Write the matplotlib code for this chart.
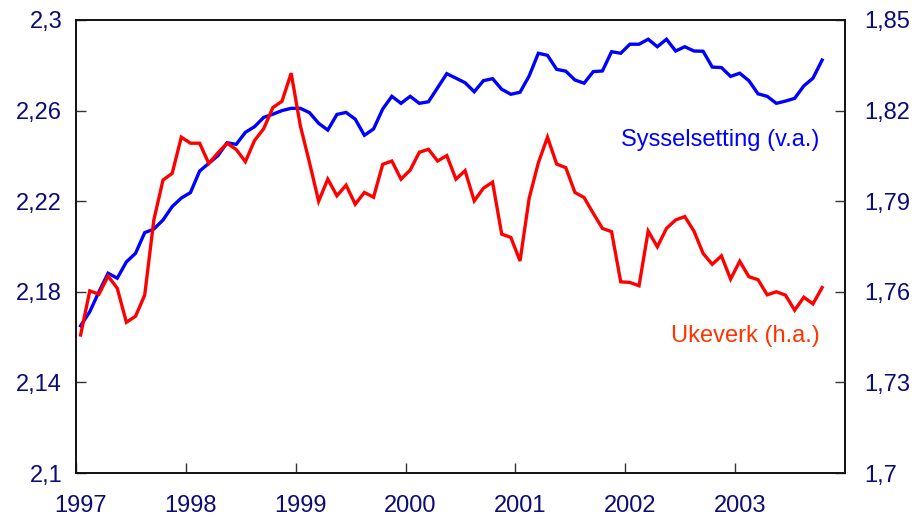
import numpy as np
import matplotlib
matplotlib.use("Agg")
import matplotlib.pyplot as plt

plt.rcParams['font.family'] = ['Liberation Sans', 'DejaVu Sans']

# monthly, Jan 1997 - Oct 2003
start_year = 1997
sysselsetting = [
    2.1650, 2.1712, 2.1800, 2.1882, 2.1860, 2.1932, 2.1970, 2.2061, 2.2077, 2.2117, 2.2176, 2.2214,
    2.2238, 2.2333, 2.2367, 2.2401, 2.2458, 2.2451, 2.2504, 2.2529, 2.2570, 2.2584, 2.2600, 2.2610,
    2.2610, 2.2591, 2.2544, 2.2514, 2.2583, 2.2592, 2.2562, 2.2491, 2.2519, 2.2607, 2.2663, 2.2632,
    2.2663, 2.2632, 2.2639, 2.2701, 2.2763, 2.2743, 2.2723, 2.2683, 2.2732, 2.2741, 2.2694, 2.2672,
    2.2681, 2.2753, 2.2853, 2.2844, 2.2782, 2.2774, 2.2735, 2.2721, 2.2772, 2.2775, 2.2860, 2.2853,
    2.2893, 2.2893, 2.2915, 2.2882, 2.2915, 2.2863, 2.2882, 2.2863, 2.2862, 2.2792, 2.2790, 2.2751,
    2.2765, 2.2732, 2.2674, 2.2663, 2.2632, 2.2642, 2.2654, 2.2709, 2.2743, 2.2823,
]
ukeverk = [
    1.7457, 1.7603, 1.7592, 1.7652, 1.7612, 1.7499, 1.7519, 1.7589, 1.7838, 1.7970, 1.7992, 1.8112,
    1.8092, 1.8092, 1.8025, 1.8060, 1.8092, 1.8071, 1.8031, 1.8101, 1.8140, 1.8210, 1.8231, 1.8324,
    1.8150, 1.8028, 1.7900, 1.7973, 1.7918, 1.7953, 1.7890, 1.7929, 1.7913, 1.8022, 1.8033, 1.7973,
    1.8003, 1.8062, 1.8072, 1.8033, 1.8051, 1.7973, 1.8001, 1.7901, 1.7943, 1.7963, 1.7791, 1.7780,
    1.7702, 1.7910, 1.8027, 1.8112, 1.8023, 1.8011, 1.7929, 1.7912, 1.7860, 1.7810, 1.7799, 1.7633,
    1.7631, 1.7620, 1.7801, 1.7749, 1.7810, 1.7838, 1.7849, 1.7801, 1.7727, 1.7691, 1.7719, 1.7642,
    1.7701, 1.7650, 1.7640, 1.7590, 1.7600, 1.7589, 1.7539, 1.7582, 1.7560, 1.7614,
]
years = [1997, 1998, 1999, 2000, 2001, 2002, 2003]
left_ticks = [2.10, 2.14, 2.18, 2.22, 2.26, 2.30]
left_labels = ["2,1", "2,14", "2,18", "2,22", "2,26", "2,3"]
right_ticks = [1.70, 1.73, 1.76, 1.79, 1.82, 1.85]
right_labels = ["1,7", "1,73", "1,76", "1,79", "1,82", "1,85"]

navy = '#0c0c78'
x = start_year + (np.arange(len(sysselsetting)) + 0.5) / 12

fig = plt.figure(figsize=(9.15, 5.19), dpi=100)
ax = fig.add_axes([0.0831, 0.0886, 0.8404, 0.8729])
ax2 = ax.twinx()

ax.plot(x, sysselsetting, color='#0000ff', lw=2.4, solid_joinstyle='miter')
ax2.plot(x, ukeverk, color='#ff0000', lw=2.4, solid_joinstyle='miter')

ax.set_xlim(1997, 2004)
ax.set_ylim(2.1, 2.3)
ax2.set_ylim(1.70, 1.85)

ax.set_yticks(left_ticks)
ax.set_yticklabels(left_labels)
ax2.set_yticks(right_ticks)
ax2.set_yticklabels(right_labels)

# year ticks at year start, labels centred on January
ax.set_xticks(years)
ax.set_xticklabels([])
ax.set_xticks([y + 1 / 24 for y in years], minor=True)
ax.set_xticklabels([str(y) for y in years], minor=True)
ax.tick_params(axis='x', which='minor', length=0, pad=16, labelsize=17, labelcolor=navy)
ax.tick_params(axis='x', which='major', direction='in', length=7, width=1, color='#333333')
ax.tick_params(axis='y', direction='in', length=7, width=1, pad=10, labelsize=17,
               labelcolor=navy, color='#333333')
ax2.tick_params(axis='y', direction='in', length=7, width=1, pad=14, labelsize=17,
                labelcolor=navy, color='#333333')

for a in (ax, ax2):
    for s in a.spines.values():
        s.set_linewidth(1.2)
        s.set_color('#111111')

ax2.text(2003.77, 1.8102, "Sysselsetting (v.a.)", color='#0000ff', fontsize=17,
         ha='right', va='center')
ax2.text(2003.77, 1.7454, "Ukeverk (h.a.)", color='#ff3300', fontsize=17,
         ha='right', va='center')

fig.savefig("out.png", dpi=100)
